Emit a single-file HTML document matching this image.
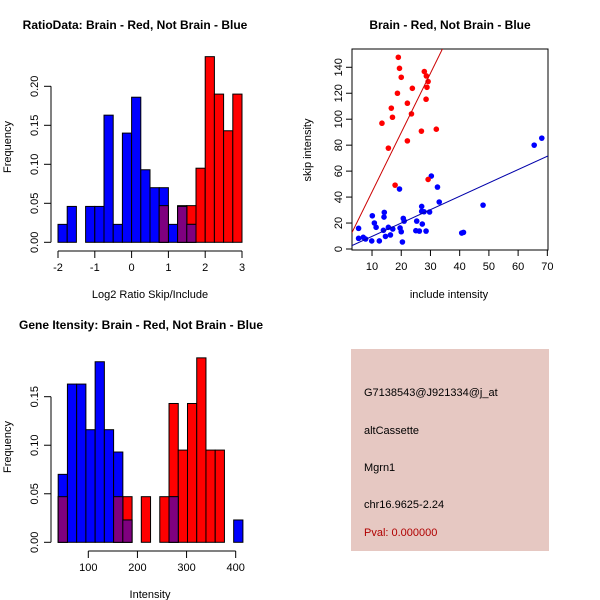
<!DOCTYPE html>
<html><head><meta charset="utf-8"><style>
body{margin:0;background:#fff}
svg{display:block;font-family:"Liberation Sans",sans-serif}
</style></head><body>
<svg id="s" width="600" height="600" viewBox="0 0 600 600">
<rect width="600" height="600" fill="#fff"/>
<text x="135" y="29" font-size="12" font-weight="bold" text-anchor="middle">RatioData: Brain - Red, Not Brain - Blue</text>
<text x="450" y="29" font-size="12" font-weight="bold" text-anchor="middle">Brain - Red, Not Brain - Blue</text>
<text x="141" y="329" font-size="12" font-weight="bold" text-anchor="middle">Gene Itensity: Brain - Red, Not Brain - Blue</text>
<text x="150" y="298" font-size="11" text-anchor="middle">Log2 Ratio Skip/Include</text>
<text x="11" y="147" font-size="11" text-anchor="middle" transform="rotate(-90 11 147)">Frequency</text>
<text x="449" y="298" font-size="11" text-anchor="middle">include intensity</text>
<text x="311" y="150" font-size="11" text-anchor="middle" transform="rotate(-90 311 150)">skip intensity</text>
<text x="150" y="598" font-size="11" text-anchor="middle">Intensity</text>
<text x="11" y="447" font-size="11" text-anchor="middle" transform="rotate(-90 11 447)">Frequency</text>
<g>
<rect x="351" y="349" width="198" height="202" fill="#e6c8c2"/>
<text x="364" y="396" font-size="11">G7138543@J921334@j_at</text>
<text x="364" y="434" font-size="11">altCassette</text>
<text x="364" y="471" font-size="11">Mgrn1</text>
<text x="364" y="508" font-size="11">chr16.9625-2.24</text>
<text x="364" y="536" font-size="11" fill="#b00000">Pval: 0.000000</text>
</g>
</svg>
<script>
// Ratio histogram data (bins start -2, width 0.25)
var ratioBlue=[0.023,0.046,0,0.046,0.046,0.163,0.023,0.14,0.186,0.093,0.07,0.07,0.023,0.046,0.023,0,0,0,0,0];
var ratioRed=[0,0,0,0,0,0,0,0,0,0,0,0.047,0,0.047,0.047,0.095,0.238,0.19,0.143,0.19];
var ratioXTicks=[-2,-1,0,1,2,3];
var ratioYTicks=[0,0.05,0.10,0.15,0.20];
// Intensity histogram data (bins start 38.7, width 18.8)
var intBlue=[0.07,0.163,0.163,0.116,0.186,0.116,0.093,0.023,0,0,0,0,0.047,0,0,0,0,0,0,0.023];
var intRed=[0.047,0,0,0,0,0,0.047,0.047,0,0.047,0,0.047,0.143,0.095,0.143,0.19,0.095,0.095,0,0];
var intXTicks=[100,200,300,400];
var intYTicks=[0,0.05,0.10,0.15];
// Scatter data
var redX=[19.0,19.4,20.0,18.7,23.8,27.9,28.6,29.2,28.8,28.5,16.6,22.1,17.0,23.5,13.4,15.6,22.1,26.9,32.0,17.9,29.2];
var redY=[147.7,139.2,132.3,120,123.8,136.7,133.3,129,124.6,115.4,108.5,112.3,101.5,104.1,96.9,77.7,83.3,90.8,92.3,49.2,53.6];
var blueX=[5.4,5.4,7.0,7.8,9.9,12.5,10.1,10.8,11.4,13.9,14.2,14.1,14.6,15.6,17.1,16.3,19.4,19.6,20.0,20.4,20.7,21.0,25.3,26.2,27.0,27.0,27.2,27.8,29.7,30.3,32.4,33.0,28.5,40.7,41.3,48.0,65.5,68.1,25.0];
var blueY=[15.9,8.2,9.0,7.7,6.2,6.2,25.6,20,16.7,14.4,28.2,24.6,9.7,16.7,15.4,10.8,46.2,16.2,13.3,5.4,23.6,21.5,21.5,13.8,32.8,29,19.2,28.7,28.5,56.2,47.7,36.2,13.8,12.3,12.8,33.8,80,85.4,14.1];
var redFit=[-1.7,4.57];
var blueFit=[-0.6,1.03];
var scXTicks=[10,20,30,40,50,60,70];
var scYTicks=[0,20,40,60,80,100,120,140];

var S=document.getElementById('s'),NS='http://www.w3.org/2000/svg';
function mk(t,a,p){var e=document.createElementNS(NS,t);for(var k in a)e.setAttribute(k,a[k]);(p||S).appendChild(e);return e;}
function fmt(v,d){return v.toFixed(d);}

function hist(o){
  var g=mk('g',{});
  
  
  var sx=function(v){return o.x0+(v-o.v0)*o.kx;};
  var sy=function(v){return o.y0-v*o.ky;};
  function bar(i,h,col,nm){
    if(h<=0)return;
    var a=o.start+i*o.w,x1=sx(a),x2=sx(a+o.w);
    var r=mk('rect',{x:x1,y:sy(h),width:x2-x1,height:sy(0)-sy(h),fill:col,stroke:'#000','stroke-width':1},g);
    
    
  }
  for(var i=0;i<o.red.length;i++)bar(i,o.red[i],'#ff0000','bar-red');
  for(i=0;i<o.blue.length;i++)bar(i,o.blue[i],'#0000ff','bar-blue');
  for(i=0;i<o.blue.length;i++)bar(i,Math.min(o.blue[i],o.red[i]),'#7f007f','bar-overlap');
  var xa=mk('g',{},g);
  
  
  var t=o.xt;
  mk('line',{x1:sx(t[0]),x2:sx(t[t.length-1]),y1:o.ax,y2:o.ax,stroke:'#000'},xa);
  t.forEach(function(v){
    mk('line',{x1:sx(v),x2:sx(v),y1:o.ax,y2:o.ax+7,stroke:'#000'},xa);
    var tx=mk('text',{x:sx(v),y:o.ax+20,'font-size':11,'text-anchor':'middle'},xa);
    tx.textContent=v;
    
    
  });
  var ya=mk('g',{},g);
  
  
  var y=o.yt;
  mk('line',{x1:o.ay,x2:o.ay,y1:sy(y[0]),y2:sy(y[y.length-1]),stroke:'#000'},ya);
  y.forEach(function(v){
    mk('line',{x1:o.ay-7,x2:o.ay,y1:sy(v),y2:sy(v),stroke:'#000'},ya);
    var tx=mk('text',{x:o.ay-13,y:sy(v),'font-size':11,'text-anchor':'middle',transform:'rotate(-90 '+(o.ay-13)+' '+sy(v)+')'},ya);
    tx.textContent=fmt(v,2);
    
    
  });
}
hist({name:'ratio-histogram',red:ratioRed,blue:ratioBlue,start:-2,w:0.25,v0:-2,x0:58,kx:36.8,y0:242.3,ky:780,ax:251,ay:51,xt:ratioXTicks,yt:ratioYTicks});
hist({name:'intensity-histogram',red:intRed,blue:intBlue,start:38.7,w:18.8,v0:100,x0:88.3,kx:0.4913,y0:542.3,ky:970.7,ax:551,ay:51,xt:intXTicks,yt:intYTicks});

// scatter
(function(){
  var g=mk('g',{});
  
  
  var L=352,R=548,T=49,B=250;
  var sx=function(v){return 342.8+v*2.922;};
  var sy=function(v){return 249-v*1.298;};
  var cp=mk('clipPath',{id:'cp'},g);mk('rect',{x:L,y:T,width:R-L,height:B-T},cp);
  var fr=mk('rect',{x:L,y:T,width:R-L,height:B-T,fill:'none',stroke:'#000'},g);
  
  
  function line(f,col,nm){
    var xa=3,xb=72;
    var l=mk('line',{x1:sx(xa),y1:sy(f[0]+f[1]*xa),x2:sx(xb),y2:sy(f[0]+f[1]*xb),stroke:col,'stroke-width':1,'clip-path':'url(#cp)'},g);
    
    
  }
  for(var i=0;i<blueX.length;i++){var c=mk('circle',{cx:sx(blueX[i]),cy:sy(blueY[i]),r:2.8,fill:'#0000ff'},g);
    
    }
  for(i=0;i<redX.length;i++){var c2=mk('circle',{cx:sx(redX[i]),cy:sy(redY[i]),r:2.8,fill:'#ff0000'},g);
    
    }
  line(redFit,'#cc0000','fit-line-red');
  line(blueFit,'#0000aa','fit-line-blue');
  scXTicks.forEach(function(v){
    mk('line',{x1:sx(v),x2:sx(v),y1:B,y2:B+6,stroke:'#000'},g);
    var t=mk('text',{x:sx(v),y:B+20,'font-size':11,'text-anchor':'middle'},g);t.textContent=v;
    
    
  });
  scYTicks.forEach(function(v){
    mk('line',{x1:L-6,x2:L,y1:sy(v),y2:sy(v),stroke:'#000'},g);
    var t=mk('text',{x:L-10,y:sy(v),'font-size':11,'text-anchor':'middle',transform:'rotate(-90 '+(L-10)+' '+sy(v)+')'},g);t.textContent=v;
    
    
  });
})();
</script>
</body></html>
